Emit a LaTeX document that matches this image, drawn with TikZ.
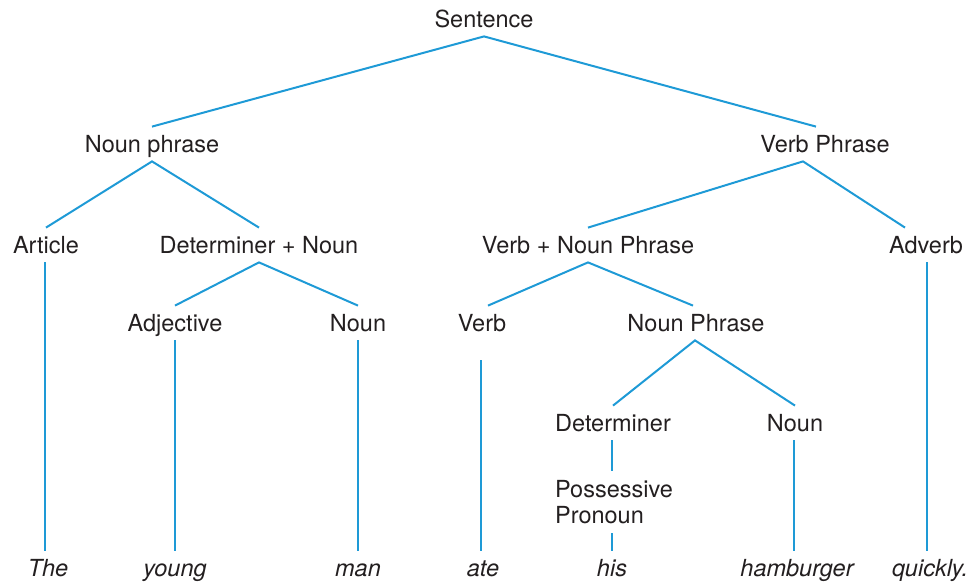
\documentclass[tikz,border=0pt]{standalone}
\usepackage{fontspec}
\setmainfont{TeX Gyre Heros}
\usepackage{tikz}

\definecolor{treeblue}{RGB}{30,154,214}
\definecolor{inkgray}{RGB}{35,31,32}

\begin{document}
\begin{tikzpicture}[x=0.5pt,y=-0.5pt,
    cat/.style={anchor=base,inner xsep=1pt,inner ysep=2pt,text height=10.5pt,text depth=2.5pt,text=inkgray,font=\fontsize{11.75}{13}\selectfont},
    word/.style={cat,font=\fontsize{11.75}{13}\selectfont\itshape},
    branch/.style={treeblue,line width=1pt}]

            % fix the page size
            \useasboundingbox (0,0) rectangle (973,584);

            % top of the tree
            \node[cat] (sentence) at (484,27) {Sentence};
            \node[cat] (np) at (152,152) {Noun phrase};
            \node[cat] (vp) at (825,152) {Verb Phrase};

            % third row
            \node[cat] (article) at (46,253) {Article};
            \node[cat] (detnoun) at (259,253) {Determiner + Noun};
            \node[cat] (vnp) at (588,253) {Verb + Noun Phrase};
            \node[cat] (adverb) at (926,253) {Adverb};

            % fourth row
            \node[cat] (adjective) at (175,331) {Adjective};
            \node[cat] (noun1) at (358,331) {Noun};
            \node[cat] (verb) at (482,331) {Verb};
            \node[cat] (nounphrase) at (696,331) {Noun Phrase};

            % inside the object noun phrase
            \node[cat] (det) at (613,431) {Determiner};
            \node[cat] (noun2) at (795,431) {Noun};
            \node[anchor=north,align=left,inner xsep=1pt,inner ysep=4.5pt,text=inkgray,
                  font=\fontsize{11.75}{13}\selectfont] (possessive) at (614,471) {Possessive\\Pronoun};

            % the words of the sentence
            \node[word] (the) at (48,576) {The};
            \node[word] (young) at (175,576) {young};
            \node[word] (man) at (358,576) {man};
            \node[word] (ate) at (483,576) {ate};
            \node[word] (his) at (612,576) {his};
            \node[word] (hamburger) at (797,576) {hamburger};
            \node[word] (quickly) at (930,576) {quickly.};

            % branches from sentence
            \draw[branch] (np.north) -- (sentence.south) -- ([xshift=-4.5pt]vp.north);

            % branches from noun phrase
            \draw[branch] (article.north) -- (np.south) -- (detnoun.north);
            \draw[branch] (adjective.north) -- (detnoun.south) -- (noun1.north);

            % branches from verb phrase
            \draw[branch] (vnp.north) -- ([xshift=-11pt]vp.south) -- ([xshift=-10.5pt]adverb.north);
            \draw[branch] ([xshift=3pt]verb.north) -- (vnp.south) -- ([xshift=-1.5pt]nounphrase.north);
            \draw[branch] (det.north) -- ([xshift=-0.5pt]nounphrase.south) -- (noun2.north);

            % down to the words
            \draw[branch] ([xshift=-0.5pt]article.south) -- ([xshift=-0.5pt]article.south |- the.north);
            \draw[branch] (adjective.south) -- (adjective.south |- young.north);
            \draw[branch] (noun1.south) -- (noun1.south |- man.north);
            \draw[branch,shorten <=10pt] ([xshift=-0.5pt]verb.south) -- ([xshift=-0.5pt]verb.south |- ate.north);
            \draw[branch] ([xshift=-0.5pt]det.south) -- ([xshift=-0.5pt]det.south |- possessive.north);
            \draw[branch] ([xshift=-0.5pt]det.south |- possessive.south) -- ([xshift=-0.5pt]det.south |- his.north);
            \draw[branch] ([xshift=-0.5pt]noun2.south) -- ([xshift=-0.5pt]noun2.south |- hamburger.north);
            \draw[branch] ([xshift=0.5pt]adverb.south) -- ([xshift=0.5pt]adverb.south |- quickly.north);
\end{tikzpicture}
\end{document}
